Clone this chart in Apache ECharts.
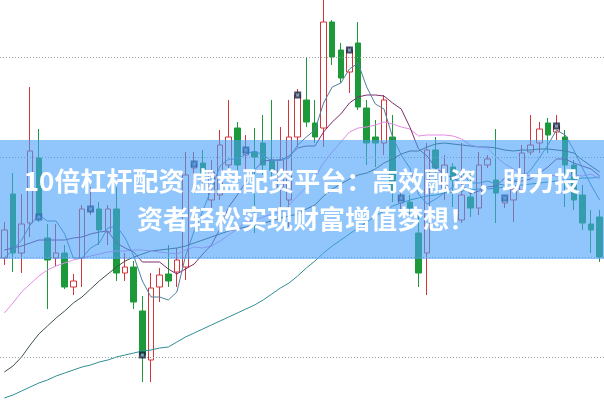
<!DOCTYPE html>
<html><head><meta charset="utf-8">
<script src="https://cdn.jsdelivr.net/npm/echarts@6/dist/echarts.min.js"></script>
<style>html,body{margin:0;padding:0;background:#fff}#c{width:604px;height:401px}</style>
</head><body><div id="c"></div>
<script>
var categories = [];
for (var k = 1; k <= 70; k++) categories.push('D' + k);

var opens = [9.95,13.15,10.2,11.7,14.95,10.95,9.95,10.2,8.5,9.95,
12.3,12.4,11.25,12.4,9.2,9.5,7.3,4.85,8.5,9.15,
9.25,9.5,14.45,14.7,12.85,13.1,14.6,16.45,15.1,15.25,
15.7,14.85,13.5,12.85,16.0,17.85,16.7,16.45,21.75,20.35,
19.25,20.7,17.45,16.0,15.7,16.0,12.7,12.75,11.2,10.2,
15.35,13.45,14.5,11.85,13.0,12.45,14.6,13.85,12.7,12.85,
13.35,15.25,15.7,16.7,16.25,16.0,14.6,13.1,11.65,12.0];
var closes = [11.35,10.2,11.65,15.3,12.0,9.85,10.2,8.5,8.8,12.4,
12.4,11.35,12.4,9.2,9.5,7.75,5.1,8.45,9.1,8.8,
9.85,14.1,14.65,14.1,14.25,15.6,16.0,14.6,15.35,15.0,
14.6,14.35,14.85,16.0,18.1,16.75,16.0,21.75,20.0,18.95,
20.35,17.5,15.7,15.7,17.85,13.35,12.95,12.45,9.2,15.35,
14.45,14.6,13.85,13.1,12.45,14.6,14.9,13.2,12.95,13.4,
15.2,15.6,16.4,16.1,16.55,14.6,12.85,11.7,11.35,10.0];
var lows = [9.6,9.25,9.2,11.0,11.75,7.4,9.55,8.4,8.1,8.5,
12.1,10.6,10.6,8.8,8.8,7.4,3.75,3.75,7.75,8.5,
8.5,8.85,13.85,13.35,12.35,12.85,14.1,14.25,14.35,11.2,
14.1,13.85,12.5,11.5,15.5,16.5,15.7,15.5,19.6,18.7,
18.2,17.35,14.6,14.5,15.1,12.75,12.35,12.1,8.5,8.1,
13.2,12.85,12.5,11.7,12.0,12.1,14.45,11.7,12.45,11.75,
13.25,15.1,15.2,15.2,15.85,12.5,12.35,11.35,10.2,9.75];
var highs = [11.75,14.2,13.15,18.5,16.4,11.65,11.65,10.6,9.15,12.6,
13.5,12.75,12.6,13.5,10.2,9.8,8.05,9.2,9.45,10.6,
10.45,15.25,15.25,15.35,14.85,16.35,17.85,16.75,16.1,16.45,
17.1,17.85,16.5,17.85,18.4,20.0,17.85,23.0,21.85,20.7,
20.5,21.75,17.85,16.85,18.1,17.1,13.35,13.1,12.1,15.7,
16.0,15.1,14.7,15.7,14.35,15.25,15.1,16.4,13.1,14.35,
15.6,17.1,16.75,16.95,17.1,16.35,14.85,13.6,12.35,12.35];

var ma5 = [9.95,10.35,10.85,11.6,12.1,11.8,11.8,11.15,9.95,9.95,
10.45,10.7,11.45,11.55,10.95,10.05,8.8,8.0,8.0,7.85,
8.25,10.05,11.3,12.3,13.4,14.55,14.9,14.9,15.15,15.3,
15.1,14.8,14.85,14.95,15.6,16.0,16.35,17.7,18.5,18.7,
19.4,19.7,18.5,17.65,17.4,16.0,15.1,14.45,13.15,12.65,
12.9,13.2,13.5,14.25,13.7,13.7,13.8,13.65,13.6,13.8,
13.95,14.35,14.95,15.6,16.35,16.1,15.35,14.45,13.6,12.85];
var ma10 = [10.35,10.45,10.55,10.7,10.85,10.85,10.85,10.85,10.95,11.0,
11.15,11.25,11.3,10.7,10.45,10.25,9.75,9.75,9.75,9.4,
9.15,9.4,9.65,10.15,10.6,11.4,12.5,13.1,13.75,14.35,
14.8,14.85,14.85,15.05,15.45,15.55,15.55,16.25,16.75,17.15,
17.7,18.0,18.1,18.1,18.05,17.7,17.4,16.5,15.4,15.05,
14.45,14.15,13.95,13.7,13.15,13.3,13.5,13.55,13.95,13.75,
13.8,13.9,14.2,14.5,14.9,14.9,14.7,14.55,14.4,14.05];
var ma20 = [7.2,7.7,8.25,8.65,9.05,9.35,9.55,9.7,9.85,9.95,
10.05,10.15,10.25,10.3,10.3,10.35,10.35,10.3,10.25,10.2,
10.15,10.35,10.5,10.45,10.55,10.8,11.1,11.4,11.75,11.85,
12.0,12.15,12.25,12.6,13.05,13.5,14.0,14.7,15.25,15.75,
16.25,16.45,16.5,16.6,16.75,16.65,16.5,16.4,16.05,16.1,
16.1,16.1,16.05,15.9,15.6,15.5,15.45,15.0,14.65,14.4,
14.15,14.05,14.1,14.1,14.05,14.1,14.1,14.05,14.15,13.9];
var ma30 = [4.25,4.55,5.0,5.6,6.15,6.55,6.95,7.3,7.7,8.0,
8.4,8.8,9.15,9.5,9.8,10.0,10.15,10.3,10.35,10.4,
10.45,10.55,10.7,10.85,11.0,11.15,11.3,11.4,11.5,11.6,
11.7,11.8,11.95,12.05,12.15,12.4,12.6,13.05,13.4,13.65,
13.9,14.1,14.2,14.4,14.7,14.9,15.15,15.3,15.3,15.5,
15.65,15.7,15.65,15.6,15.55,15.5,15.5,15.45,15.35,15.3,
15.35,15.35,15.4,15.4,15.35,15.3,15.2,14.85,14.55,14.25];
var ma60 = [2.95,3.1,3.3,3.5,3.7,3.85,4.05,4.2,4.35,4.5,
4.6,4.75,4.85,5.0,5.1,5.2,5.3,5.35,5.45,5.5,
5.75,6.0,6.2,6.4,6.6,6.8,7.0,7.2,7.4,7.6,
7.85,8.15,8.45,8.7,9.05,9.45,9.8,10.2,10.55,10.85,
11.15,11.45,11.75,12.05,12.3,12.55,12.7,12.85,12.95,13.05,
13.1,13.2,13.25,13.3,13.35,13.4,13.4,13.45,13.5,13.55,
13.6,13.65,13.7,13.75,13.8,13.85,13.9,13.95,13.95,14.0];

var markerIdx = [4,10,16,22,28,34,40,46,58,64];
var gridValues = [5,10,15,20];
var bannerLines = ['10倍杠杆配资 虚盘配资平台：高效融资，助力投', '资者轻松实现财富增值梦想！'];

var candleData = opens.map(function(o,i){ return [o, closes[i], lows[i], highs[i]]; });
var markerData = markerIdx.map(function(i){ return [i, closes[i]]; });

function lineSeries(name, data, color){
  return {name:name, type:'line', data:data, symbol:'none', smooth:false, silent:true,
    lineStyle:{color:color, width:1}, z:3};
}

var chart = echarts.init(document.getElementById('c'), null, {renderer:'canvas'});
chart.setOption({
  animation:false,
  backgroundColor:'#ffffff',
  grid:{left:-2.375, right:-6.125, top:0, bottom:0},
  xAxis:{type:'category', data:categories, boundaryGap:true, show:false},
  yAxis:{type:'value', min:2.8, max:22.85, show:false, splitLine:{show:false}},
  series:[
    {type:'candlestick', data:candleData, barWidth:6, z:2,
      itemStyle:{color:'rgba(255,255,255,0)', color0:'#1c9a3a', borderColor:'#d2353a', borderColor0:'#1c9a3a', borderWidth:1},
      markLine:{silent:true, symbol:'none', label:{show:false}, animation:false,
        lineStyle:{color:'#9a9a9a', width:1, type:[1,2]},
        data:gridValues.map(function(v){return {yAxis:v};})}
    },
    lineSeries('MA60', ma60, '#2f8e93'),
    lineSeries('MA30', ma30, '#3e5444'),
    lineSeries('MA20', ma20, '#e58ce5'),
    lineSeries('MA10', ma10, '#7d2e6c'),
    lineSeries('MA5', ma5, '#4f7f9d'),
    {type:'scatter', data:markerData, symbol:'rect', symbolSize:[7,7], silent:true, z:5,
      itemStyle:{color:'#152240'}},
    {type:'scatter', data:markerData, symbol:'rect', symbolSize:[3,3], silent:true, z:6,
      itemStyle:{color:'#9ab8cc'}}
  ],
  graphic:[
    {type:'rect', z:100, silent:true, shape:{x:0, y:140, width:604, height:119},
      style:{fill:'rgba(70,160,250,0.6)'}},
    {type:'text', z:101, silent:true, style:{text:bannerLines[0], x:302, y:181, fill:'#ffffff',
      font:'bold 26px "Noto Sans CJK SC"', textAlign:'center', textVerticalAlign:'middle'}},
    {type:'text', z:101, silent:true, style:{text:bannerLines[1], x:306, y:219, fill:'#ffffff',
      font:'bold 26px "Noto Sans CJK SC"', textAlign:'center', textVerticalAlign:'middle'}}
  ]
});
</script></body></html>
